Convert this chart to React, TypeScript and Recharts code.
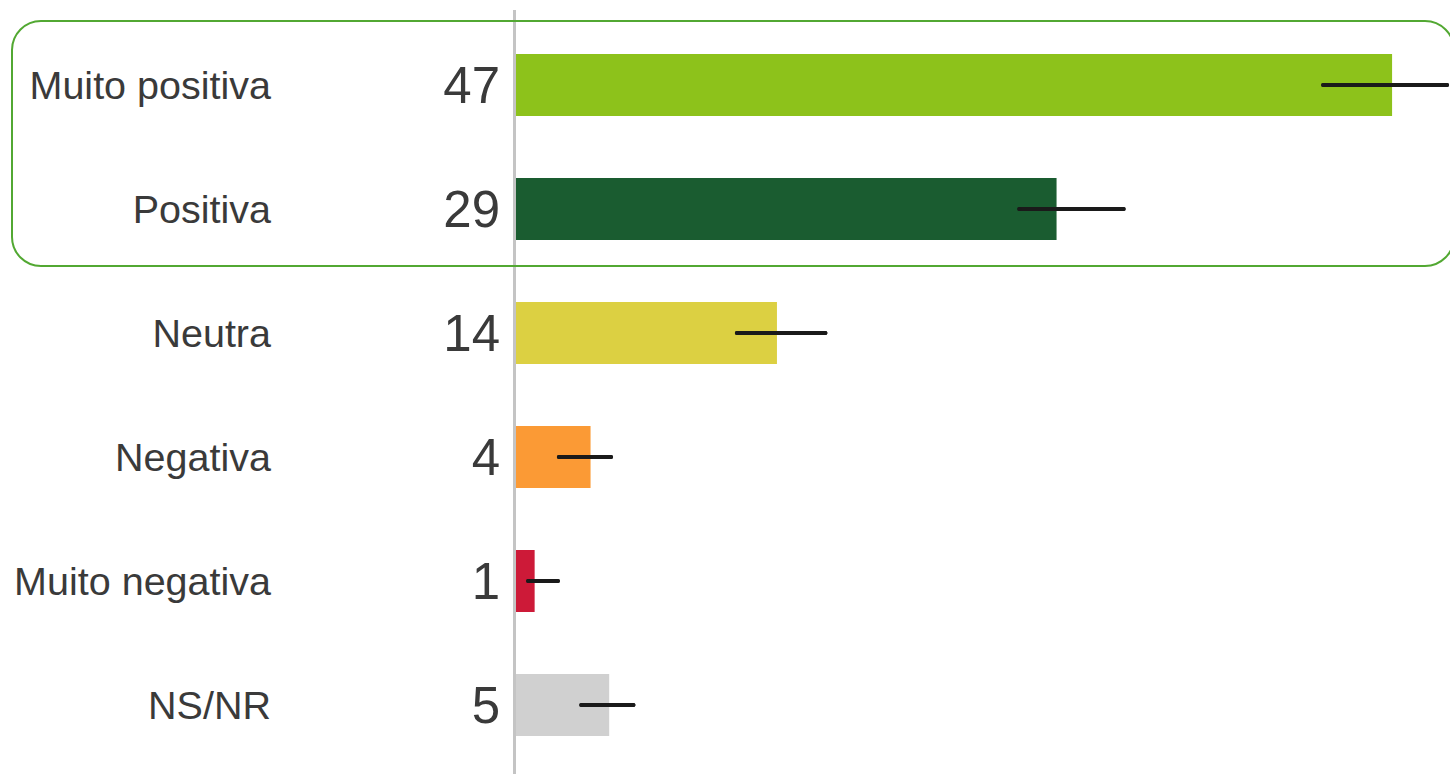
import React from "react";
import { BarChart, Bar, XAxis, YAxis, Cell, ErrorBar } from "recharts";

const categories = ["Muito positiva", "Positiva", "Neutra", "Negativa", "Muito negativa", "NS/NR"];
const values = [47, 29, 14, 4, 1, 5];
const errLow = [3.7, 2.0, 2.15, 1.7, 0.35, 1.5];
const errHigh = [2.95, 3.6, 2.6, 1.1, 1.25, 1.3];
const colors = ["#8dc21b", "#1a5c30", "#dcd042", "#fb9a35", "#cd1a38", "#d0d0d0"];

const data = categories.map((name, i) => ({
  name,
  value: values[i],
  err: [errLow[i], errHigh[i]],
}));

const FONT = "'Liberation Sans', Arial, sans-serif";

// category name + big value number, both right-aligned left of the baseline
function RowTick(props: any) {
  const { x, y, payload, index } = props;
  return (
    <g>
      <text x={x - 245} y={y} dy={14} textAnchor="end" fontSize={39.5} fill="#3a3a3a" fontFamily={FONT}>
        {payload.value}
      </text>
      <text x={x - 16} y={y} dy={18} textAnchor="end" fontSize={51} fill="#3a3a3a" fontFamily={FONT}>
        {values[index]}
      </text>
    </g>
  );
}

export default function App() {
  return (
    <div style={{ position: "absolute", left: 0, top: 0, width: 1450, height: 774, background: "#fff", overflow: "hidden" }}>
      <div style={{ position: "absolute", left: 0, top: 0 }}>
        <BarChart
          width={1450}
          height={774}
          data={data}
          layout="vertical"
          margin={{ top: 23, right: 2, left: 0, bottom: 7 }}
        >
          <XAxis type="number" domain={[0, 50]} height={0} tick={false} axisLine={false} tickLine={false} />
          <YAxis
            type="category"
            dataKey="name"
            width={516}
            axisLine={false}
            tickLine={false}
            tickSize={0}
            tickMargin={0}
            tick={<RowTick />}
            interval={0}
          />
          <Bar dataKey="value" barSize={62} isAnimationActive={false}>
            {data.map((d, i) => (
              <Cell key={d.name} fill={colors[i]} />
            ))}
            <ErrorBar dataKey="err" direction="x" width={0} stroke="#1a1a1a" strokeWidth={4} strokeLinecap="round" />
          </Bar>
        </BarChart>
      </div>
      {/* baseline, runs the full height past the plot area */}
      <div style={{ position: "absolute", left: 513, top: 10, width: 3, height: 764, background: "#c4c4c4" }} />
      <div
        style={{
          position: "absolute",
          left: 11,
          top: 20,
          width: 1440,
          height: 243,
          border: "2px solid #52a832",
          borderRadius: 30,
          pointerEvents: "none",
        }}
      />
    </div>
  );
}
